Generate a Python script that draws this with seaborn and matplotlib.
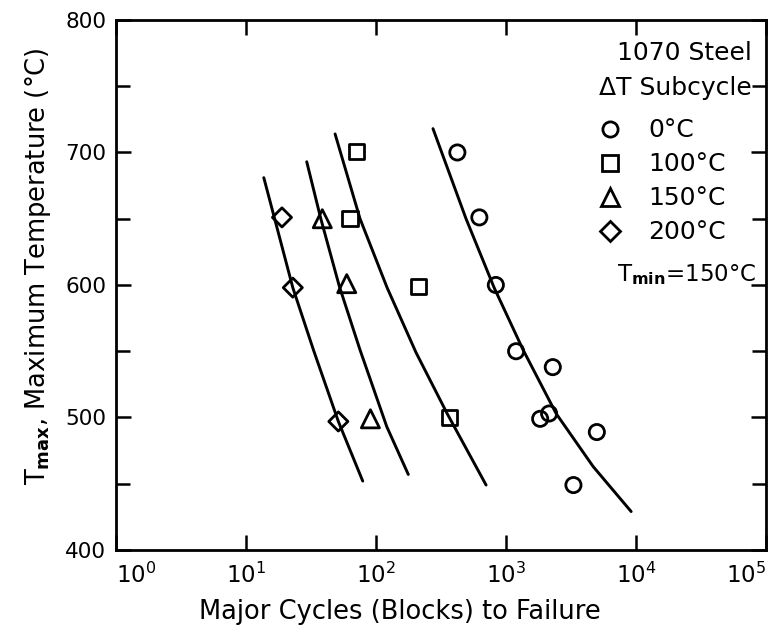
import seaborn as sns
import matplotlib.pyplot as plt
from matplotlib.lines import Line2D
from matplotlib.ticker import MultipleLocator

sns.set_style("ticks")
plt.rcParams['font.family'] = ['DejaVu Sans']
plt.rcParams['mathtext.default'] = 'regular'
plt.rcParams['text.color'] = 'black'
plt.rcParams['axes.labelcolor'] = 'black'

# measured points (cycles to failure, Tmax in degC)
n_0 = [422, 623, 834, 1194, 2286, 1828, 2142, 4988, 3296]
t_0 = [700, 651, 600, 550, 538, 499, 503, 489, 449]
n_100 = [71, 63, 211, 365]
t_100 = [701, 650, 599, 500]
n_150 = [38.6, 59.5, 90.5]
t_150 = [650, 601, 499]
n_200 = [18.9, 22.9, 51.3]
t_200 = [651, 598, 497]

# fitted curves
cn_0 = [274, 492, 809, 1352, 2425, 4670, 9160]
ct_0 = [718, 650, 598, 551, 503, 463, 429]
cn_100 = [48.4, 75.3, 121.6, 203, 352, 702]
ct_100 = [714, 650, 598, 549, 503, 449]
cn_150 = [29.3, 37.6, 52.2, 75.3, 121, 177]
ct_150 = [693, 650, 599, 551, 493, 457]
cn_200 = [13.7, 16.5, 22.9, 33, 51.3, 79]
ct_200 = [681, 651, 598, 551, 497, 452]

labels = ["0°C", "100°C", "150°C", "200°C"]
markers = ["o", "s", "^", "D"]
sizes = [120, 120, 170, 95]
xticks = [1, 10, 100, 1000, 10000, 100000]

fig = plt.figure(figsize=(7.81, 6.34), dpi=100)
ax = fig.add_axes([0.1485, 0.1325, 0.8325, 0.836])

curves = [(cn_0, ct_0), (cn_100, ct_100), (cn_150, ct_150), (cn_200, ct_200)]
for cn, ct in curves:
    sns.lineplot(x=cn, y=ct, sort=False, estimator=None, color="black",
                 linewidth=2.1, ax=ax)

points = [(n_0, t_0), (n_100, t_100), (n_150, t_150), (n_200, t_200)]
for (n, t), m, s in zip(points, markers, sizes):
    sns.scatterplot(x=n, y=t, marker=m, s=s, facecolor="none",
                    edgecolor="black", linewidth=2.0, ax=ax, zorder=3)

ax.set_xscale("log")
ax.set_xlim(1, 1e5)
ax.set_ylim(400, 800)
ax.set_xticks(xticks)
ax.xaxis.set_minor_locator(plt.NullLocator())
ax.yaxis.set_major_locator(MultipleLocator(100))
ax.yaxis.set_minor_locator(MultipleLocator(50))

ax.tick_params(which="both", direction="in", top=True, right=True,
               width=1.8, colors="black")
ax.tick_params(which="major", length=11)
ax.tick_params(axis="y", labelsize=15.5, pad=7)
ax.tick_params(axis="x", labelsize=16.5, pad=9)
ax.tick_params(which="minor", length=10)
for sp in ax.spines.values():
    sp.set_linewidth(2.0)
    sp.set_color("black")

xt = ax.get_xticklabels()
xt[0].set_ha("left")
xt[-1].set_ha("right")

ax.set_xlabel("Major Cycles (Blocks) to Failure", fontsize=18.5)
ax.xaxis.set_label_coords(0.437, -0.092)
ax.set_ylabel("T$_{\\mathbf{max}}$, Maximum Temperature (°C)", fontsize=18.5)
ax.yaxis.set_label_coords(-0.097, 0.536)

ax.text(0.978, 0.938, "1070 Steel", transform=ax.transAxes, ha="right",
        va="center", fontsize=18)
ax.text(0.978, 0.872, "ΔT Subcycle", transform=ax.transAxes, ha="right",
        va="center", fontsize=18)

handles = [Line2D([], [], marker=m, linestyle="none", markerfacecolor="none",
                  markeredgecolor="black", markeredgewidth=2.0,
                  markersize=(s ** 0.5))
           for m, s in zip(markers, sizes)]
ax.legend(handles, labels, loc="upper left", bbox_to_anchor=(0.725, 0.838),
          frameon=False, fontsize=18, handlelength=0.85, handletextpad=1.1,
          labelspacing=0.4, borderpad=0)

ax.text(0.771, 0.519, "T$_{\\mathbf{min}}$=150°C", transform=ax.transAxes,
        ha="left", va="center", fontsize=16.5)

plt.savefig("out.png", dpi=100)
plt.close()
